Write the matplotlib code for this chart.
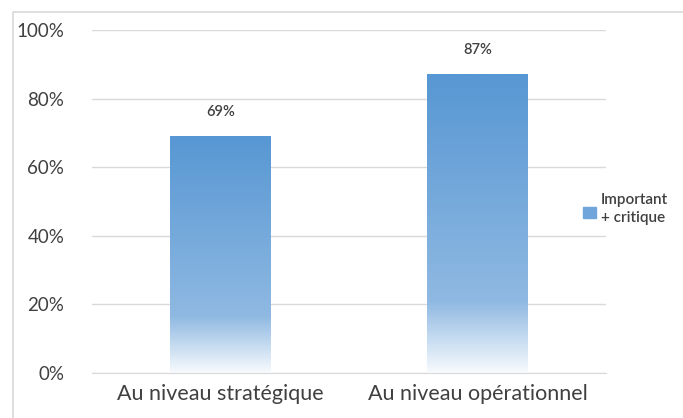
import matplotlib.pyplot as plt
import numpy as np
from matplotlib.colors import LinearSegmentedColormap
from matplotlib.patches import Rectangle

categories = ["Au niveau stratégique", "Au niveau opérationnel"]
values = [69, 87]
labels = ["69%", "87%"]
series_name = "Important\n+ critique"

plt.rcParams['font.family'] = ['Lato', 'DejaVu Sans']

fig = plt.figure(figsize=(6.83, 4.18), dpi=100)
ax = fig.add_axes([92 / 683, 1 - 373 / 418, 514 / 683, 343 / 418])

# outer chart frame
fig.patches.append(Rectangle((13 / 683, -0.05), 1.0, 1 - 12 / 418 + 0.05,
                             transform=fig.transFigure, fill=False,
                             edgecolor='#d9d9d9', lw=1.2))

# gradient: white at bottom, fades in fast, then towards darker blue
cmap = LinearSegmentedColormap.from_list(
    "grad", [(0.0, '#f7fafd'), (0.24, '#8fb9e2'), (1.0, '#5797d3')])
grad = np.linspace(0, 1, 256).reshape(-1, 1)

x = np.arange(len(categories))
w = 0.39
bars = ax.bar(x, values, w, color='none', edgecolor='none')
for b, v, lab in zip(bars, values, labels):
    x0 = b.get_x()
    ax.imshow(grad, extent=[x0, x0 + w, 0, v], origin='lower', cmap=cmap,
              aspect='auto', zorder=2)
    ax.text(b.get_x() + w / 2, v + 5, lab, ha='center', va='bottom',
            fontsize=10.5, color='#404040', fontweight='semibold')

ax.set_xlim(-0.5, 1.5)
ax.set_ylim(0, 100)
ax.set_yticks(np.arange(0, 101, 20))
ax.set_yticklabels([f"{t}%" for t in range(0, 101, 20)])
ax.set_xticks(x)
ax.set_xticklabels(categories)
ax.yaxis.grid(True, color='#d9d9d9', lw=1)
ax.set_axisbelow(True)
for s in ['top', 'right', 'left']:
    ax.spines[s].set_visible(False)
ax.spines['bottom'].set_color('#d9d9d9')
ax.tick_params(axis='both', length=0, colors='#404040')
ax.tick_params(axis='y', pad=20, labelsize=13.5)
ax.tick_params(axis='x', pad=8, labelsize=15.5)

# legend
fig.patches.append(Rectangle((583 / 683, 1 - 218 / 418), 13 / 683, 11 / 418,
                             transform=fig.transFigure, color='#6fa5da'))
fig.text(601 / 683, 1 - 209 / 418, series_name, fontsize=11, color='#404040',
         va='center', ha='left', linespacing=1.45, fontweight='semibold')

fig.savefig("out.png", dpi=100)
